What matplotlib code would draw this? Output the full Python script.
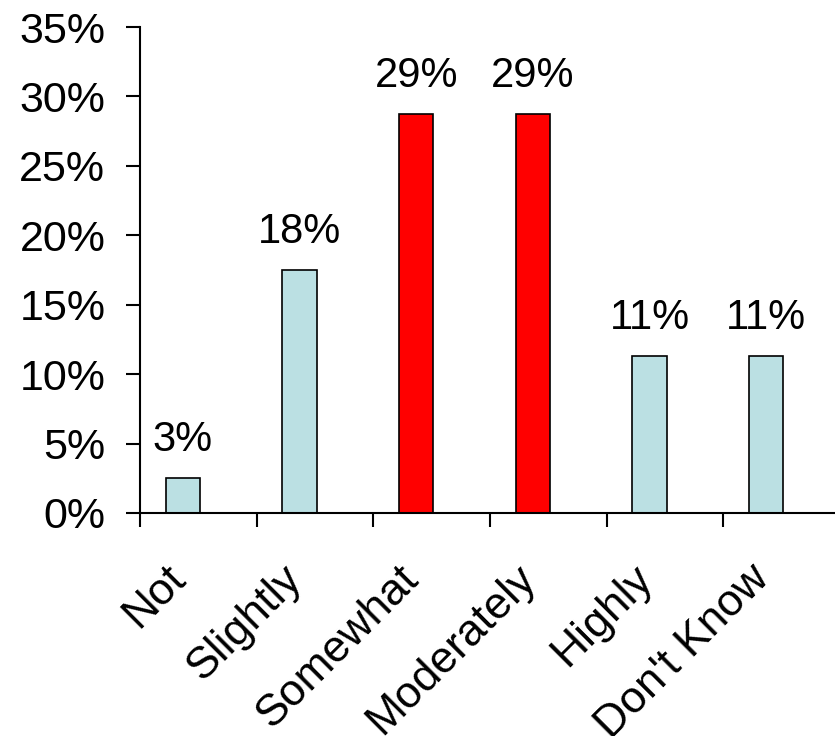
import numpy as np
import matplotlib
matplotlib.use("Agg")
import matplotlib.pyplot as plt
import matplotlib.transforms as mtransforms

categories = ["Not", "Slightly", "Somewhat", "Moderately", "Highly", "Don't Know"]
values = [2.5, 17.5, 28.7, 28.7, 11.3, 11.3]
labels = ["3%", "18%", "29%", "29%", "11%", "11%"]
highlight = [False, False, True, True, False, False]
yticks = [0, 5, 10, 15, 20, 25, 30, 35]

plt.rcParams['font.family'] = ['Liberation Sans', 'DejaVu Sans']

fig = plt.figure(figsize=(8.35, 7.36), dpi=100)
ax = fig.add_axes([0.1677, 0.303, 1.006 - 0.1677, 0.9633 - 0.303])

x = np.arange(len(categories)) + 0.5 - 0.133
colors = ['#FF0000' if h else '#BBE0E3' for h in highlight]
bars = ax.bar(x, values, width=0.296, color=colors, edgecolor='black', linewidth=1.2)

for xi, v, lab in zip(x, values, labels):
    ax.annotate(lab, (xi, v), xytext=(0, 13), textcoords='offset points',
                ha='center', va='bottom', fontsize=30)

ax.set_xlim(0, 6)
ax.set_ylim(0, 35)
ax.set_yticks(yticks)
ax.set_yticklabels([f"{t}%" for t in yticks])
ax.set_xticks(np.arange(0, 6))
ax.set_xticklabels([])
ax.set_xticks(x, minor=True)
ax.set_xticklabels(categories, minor=True, rotation=45, ha='right',
                   rotation_mode='anchor', fontsize=32)

ax.tick_params(axis='y', which='major', length=10, width=1.5, labelsize=31, pad=15)
ax.tick_params(axis='x', which='major', length=10, width=1.5)
ax.tick_params(axis='x', which='minor', length=0, pad=22)

# nudge the rotated category labels down-left
shift = mtransforms.ScaledTranslation(-18 / 100, -14 / 100, fig.dpi_scale_trans)
for t in ax.get_xticklabels(minor=True):
    t.set_transform(t.get_transform() + shift)

for s in ['top', 'right']:
    ax.spines[s].set_visible(False)
for s in ['left', 'bottom']:
    ax.spines[s].set_linewidth(1.5)

fig.savefig("out.png", dpi=100)
